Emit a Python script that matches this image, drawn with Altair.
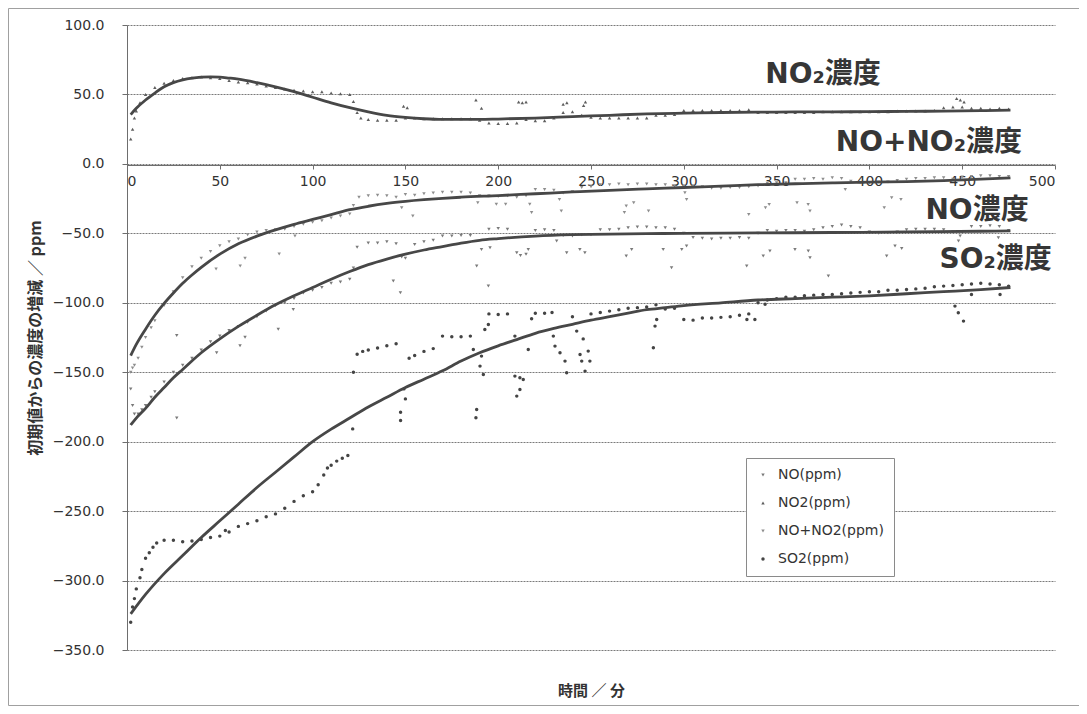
import altair as alt
import pandas as pd

series_names = ["NO(ppm)", "NO2(ppm)", "NO+NO2(ppm)", "SO2(ppm)"]
point_colors = ["#7a7a7a", "#5e5e5e", "#8e8e8e", "#444444"]
point_shapes = ["triangle-down", "triangle-up", "triangle-down", "circle"]
point_sizes = [12, 12, 12, 15]

x_ticks = [0, 50, 100, 150, 200, 250, 300, 350, 400, 450, 500]
y_ticks = [100, 50, 0, -50, -100, -150, -200, -250, -300, -350]

# measured points (minutes, ppm change)
no2_pts = [(2,18),(3,25),(4,33),(5,38),(7,44),(10,50),(15,55),(20,58),(25,60),(30,61.5),(35,62),(40,62.5),
           (45,62),(50,61.5),(55,60),(60,59),(65,58.5),(70,57.5),(75,56),(80,55),(85,54),(90,53),(95,52.5),
           (100,52),(105,52),(110,51),(115,50.5),(120,50),(122,45),(124,37),(126,33),(130,32),(135,31.5),
           (140,31.5),(145,31.5),(150,33),(155,33),(160,32.5),(165,32.5),(170,32.5),(175,32.5),(180,32.5),
           (185,32.5),(190,31.5),(195,29.5),(200,29),(205,29),(210,29.5),(215,32),(220,31),(225,31),(230,33),
           (235,37),(240,37.5),(245,35),(250,33.5),(255,33),(260,33),(265,33),(270,33),(275,33),(280,33),
           (285,35),(290,35),(295,35.5),(300,38.5),(305,38.5),(310,38.5),(315,38.5),(320,38.5),(325,38.5),
           (330,38.5),(335,39),(340,37),(345,37),(350,37),(355,37),(360,37),(365,37),(370,37),(375,37.5),
           (380,37.5),(385,37.5),(390,37.5),(395,37.5),(400,37.5),(405,37.5),(410,37.5),(415,38),(420,38),
           (425,38),(430,38),(435,38.5),(440,40.5),(445,41),(450,41),(455,40),(460,40),(465,39.5),(470,40),
           (475,39.5),
           (149,41.5),(151,40.5),(188,46),(191,40),(211,44.5),(213,44),(215,44.5),(235,43),(237,44),(246,42),
           (247,44.5),(447,47),(449,46),(451,44.5)]

nonox_pts = [(2,-150),(3,-147),(4,-145),(6,-140),(8,-132),(10,-125),(13,-118),(15,-113),(20,-102),(25,-92),
             (30,-82),(35,-74),(40,-68),(45,-63),(50,-59),(55,-56),(60,-54),(65,-51),(70,-49),(75,-48),
             (80,-47.5),(85,-47),(90,-45),(95,-43.5),(100,-42),(105,-41),(110,-39),(115,-37.5),(120,-36),
             (122,-30),(125,-24),(130,-23),(135,-22.5),(140,-23),(145,-24),(150,-22),(155,-22.5),(160,-21.5),
             (165,-21),(170,-20.5),(175,-20.5),(180,-20.5),(185,-21),(190,-23),(195,-23),(200,-23.5),(205,-23),
             (210,-24),(215,-23),(220,-18.5),(225,-18.5),(230,-19),(235,-21),(240,-20),(245,-17),(250,-16.5),
             (255,-15),(260,-15),(265,-14.5),(270,-15),(275,-14.5),(280,-14.5),(285,-15),(290,-15),(295,-16),
             (300,-16),(305,-16),(310,-16.5),(315,-17.5),(320,-17.5),(325,-17),(330,-17),(335,-16.5),(340,-16),
             (345,-14),(350,-13.5),(355,-13.5),(360,-11),(365,-11),(370,-10.5),(375,-11),(380,-10),(385,-10.5),
             (390,-12.5),(395,-13.5),(400,-13.5),(405,-13),(410,-13),(415,-12),(420,-11),(425,-10.5),
             (430,-10.5),(435,-10),(440,-10),(445,-11),(450,-9.5),(455,-9),(460,-8.5),(465,-8.5),(470,-9),
             (475,-9),
             (48,-75.6),(61,-73.5),(63.6,-68),(82,-64.8),(90.5,-52),(148,-31.6),(154,-37.6),(189,-28),(199,-29),
             (204,-29),(217,-29),(218,-35),(233,-25.6),(234,-34),(268,-35),(269,-30.4),(273,-28),(281,-34),
             (300.6,-20.8),(301.5,-25.6),(335,-36.4),(344,-31.6),(346,-29.2),(361,-28),(367,-29.2),(368,-34),
             (387,-18.4),(408,-31.6),(412,-24.4),(417,-25.6)]

no_pts = [(2,-162),(3,-174),(4,-180),(6,-180),(8,-177),(10,-174),(13,-168),(15,-164),(20,-157),(25,-150),
          (30,-145),(35,-140),(40,-134),(45,-128),(50,-124),(55,-120),(60,-117),(65,-114),(70,-110),(75,-106),
          (80,-102),(85,-100),(90,-97),(95,-93),(100,-91),(105,-89),(110,-86),(115,-85),(120,-83),(122,-75),
          (124,-60),(130,-57),(135,-57),(140,-56),(145,-57.5),(148,-67),(150,-68),(155,-58),(160,-56),
          (165,-55),(170,-52),(175,-52),(180,-51.5),(185,-51.5),(195,-47),(200,-46.5),(205,-47),(210,-64),
          (212,-66),(215,-65),(220,-48),(225,-47.5),(230,-48),(235,-51.5),(240,-52),(245,-51),(250,-51),
          (255,-47.5),(260,-47.5),(265,-47),(270,-46),(275,-45.5),(280,-45.5),(285,-46),(290,-46),(295,-47),
          (300,-50),(305,-53),(310,-53.5),(315,-54),(320,-53.5),(325,-53.5),(330,-53),(335,-53.5),(340,-50),
          (345,-48),(350,-48.5),(355,-48),(360,-48),(365,-48.5),(370,-47.5),(375,-46),(380,-45),(385,-44),
          (390,-45),(395,-46),(400,-49),(405,-50),(410,-49.5),(415,-49),(420,-47.5),(425,-47),(430,-47),
          (435,-47),(440,-47.5),(445,-49),(450,-49),(455,-45),(460,-45),(465,-44.5),(470,-45),(475,-48),
          (26.8,-123.6),(26.8,-183),(48.3,-136),(60.9,-131),(63.6,-124.8),(81.5,-119),(89.6,-104.8),
          (143.5,-84.4),(147.3,-92.8),(188.4,-73.6),(194.7,-88),(191,-61.6),(195.6,-60.4),(216.2,-61.6),
          (231.5,-55.6),(236.9,-64),(244,-61.6),(246.7,-64),(269,-66.4),(271.9,-61.6),(288.9,-61.6),
          (293.4,-74.8),(298.9,-61.6),(301.5,-59.2),(333.9,-73.6),(342.8,-66.4),(346.4,-62.8),(359.9,-61.6),
          (367.1,-62.8),(368,-67.6),(377.9,-80.8),(409.3,-66.4),(413.8,-59.2),(417.4,-61),(448,-55.6),
          (448.9,-52),(469.5,-53.2)]

so2_pts = [(2,-330),(3,-319),(4,-313),(5,-306),(7,-298),(8,-292),(10,-284),(12,-280),(14,-276),(16,-273),
           (20,-271),(25,-271),(30,-272),(35,-271.5),(40,-270.5),(45,-269),(50,-268),(53,-264),(55,-265),
           (60,-261),(65,-259),(70,-257),(75,-254),(80,-252),(85,-248),(90,-243),(95,-239),(100,-236),
           (103,-231),(106,-224),(108,-219),(110,-217),(113,-214),(116,-212),(119,-210),(122,-150),(124,-137),
           (127,-135),(130,-134),(135,-132.5),(140,-131),(145,-129.5),(152,-140),(155,-138),(160,-135),
           (165,-133),(170,-124),(175,-124.5),(180,-124.5),(185,-124),(195,-108),(200,-108.5),(205,-108),
           (220,-107.5),(225,-107.5),(229,-107),(250,-108),(255,-107),(260,-106),(265,-105),(270,-104),
           (275,-103.5),(280,-103),(285,-101.5),(290,-104.5),(295,-104),(300,-112),(305,-112.5),(310,-111),
           (315,-111),(320,-110.5),(325,-110),(330,-109),(335,-108),(340,-100),(345,-98),(350,-97),(355,-96),
           (360,-96),(365,-95),(370,-94.5),(375,-94),(380,-94),(385,-93.5),(390,-93),(395,-92.5),(400,-92),
           (405,-92),(410,-91),(415,-91),(420,-90.5),(425,-90),(430,-89.5),(435,-88.5),(440,-88),(445,-87.5),
           (450,-87),(455,-86.5),(460,-86),(465,-86.5),(470,-87),(475,-88),
           (121.6,-190.8),(147.4,-184.8),(147.4,-178.8),(150,-169.2),(149.2,-162),(186.6,-133.6),
           (188.4,-176.8),(188,-182.8),(190.2,-145.6),(191,-138.4),(192,-151.6),(192.8,-119.2),(194.7,-115.6),
           (209,-124),(209,-152.8),(211.7,-154),(213.5,-155.2),(210,-167.2),(211.7,-162.4),(216.2,-133.6),
           (218,-111.5),(229.7,-124),(230.6,-131.2),(233.3,-136),(236,-142),(236.9,-150.4),(240,-110),
           (242.3,-120.4),(244.1,-137.2),(245,-142),(245.8,-126),(246.8,-149.2),(248.5,-134.8),(249.4,-142),
           (283.6,-132.4),(284.5,-116.8),(285.4,-112),(334,-112),(338.3,-112),(343.8,-101),(446.1,-102.4),
           (447.9,-107.2),(450.7,-113.2),(455,-94),(470.4,-94)]

# fitted trend curves
no2_fit = [(2,35.5),(5,40),(10,46),(15,51),(20,55.5),(25,58.5),(30,60.5),(35,61.8),(40,62.5),(45,62.7),
           (50,62.5),(55,61.8),(60,61),(70,58.5),(80,55.5),(90,52),(100,48),(110,44),(120,40.5),(130,37.5),
           (140,35),(150,33.5),(160,32.5),(170,32),(180,32),(190,32),(200,32.3),(220,33),(240,34),(260,35),
           (280,36),(300,36.5),(320,37),(340,37.2),(360,37.4),(380,37.5),(400,37.6),(420,37.8),(440,38),
           (460,38.3),(476,38.7)]
nonox_fit = [(2,-138),(5,-130),(10,-119),(15,-109),(20,-100.5),(25,-93),(30,-86),(35,-80),(40,-74.5),
             (50,-65),(60,-57.5),(70,-52),(80,-47.5),(90,-43.5),(100,-40),(110,-36.5),(120,-33),(130,-30.5),
             (140,-28.5),(150,-27),(160,-25.8),(170,-24.8),(180,-24),(200,-22.8),(220,-21.5),(240,-20.2),
             (260,-19),(280,-18),(300,-17),(320,-16),(340,-15),(360,-14.3),(380,-13.7),(400,-13.2),
             (420,-12.7),(440,-12),(460,-11),(476,-10)]
no_fit = [(2,-188),(5,-183),(10,-176),(15,-168),(20,-161),(25,-154),(30,-148),(40,-136),(50,-126),(60,-117),
          (70,-109),(80,-101.5),(90,-95),(100,-89),(110,-83),(120,-77.5),(130,-72.5),(140,-68.5),(150,-65),
          (160,-62),(170,-59.5),(180,-57),(190,-55),(200,-53.8),(220,-52),(240,-51),(260,-50.5),(280,-50.2),
          (300,-50),(340,-49.7),(380,-49.4),(420,-49),(460,-48.5),(476,-48.3)]
so2_fit = [(2,-324),(10,-310),(20,-295),(30,-282),(40,-269),(50,-257),(60,-245),(70,-233),(80,-222),
           (90,-211),(100,-200),(110,-191),(120,-183),(130,-175),(140,-168),(150,-161),(160,-155),(170,-149),
           (180,-142),(190,-136),(200,-131),(210,-126.5),(220,-122),(230,-118.5),(240,-115.5),(250,-112.5),
           (260,-110),(270,-107.5),(280,-105),(290,-103.5),(300,-102),(320,-100),(340,-98),(360,-97),
           (380,-96),(400,-95),(420,-93.5),(440,-92),(460,-90.5),(476,-89)]

label_texts = ["NO₂濃度", "NO+NO₂濃度", "NO濃度", "SO₂濃度"]
label_t = [375, 432, 458, 468]
label_v = [64, 15, -34, -69]


def to_df(pairs, name):
    return pd.DataFrame({"t": [p[0] for p in pairs], "v": [p[1] for p in pairs], "series": name})


points = pd.concat([to_df(no_pts, series_names[0]), to_df(no2_pts, series_names[1]),
                    to_df(nonox_pts, series_names[2]), to_df(so2_pts, series_names[3])], ignore_index=True)
fits = pd.concat([to_df(no_fit, series_names[0]), to_df(no2_fit, series_names[1]),
                  to_df(nonox_fit, series_names[2]), to_df(so2_fit, series_names[3])], ignore_index=True)
labels = pd.DataFrame({"t": label_t, "v": label_v, "text": label_texts})

xscale = alt.Scale(domain=[0, 500], nice=False, zero=False)
yscale = alt.Scale(domain=[-350, 100], nice=False, zero=False)

x_enc = alt.X("t:Q", scale=xscale, axis=alt.Axis(
    values=x_ticks, format="d", offset=-485, grid=False, tickSize=4, labelPadding=5,
    title="時間 ／ 分", titleY=525, titleBaseline="middle", titleAlign="center"))
y_enc = alt.Y("v:Q", scale=yscale, axis=alt.Axis(
    values=y_ticks, format=".1f", grid=True, gridColor="#7a7a7a", gridDash=[2, 1], gridWidth=1,
    tickSize=5, labelPadding=18, title="初期値からの濃度の増減 ／ ppm", titleFontSize=16,
    titleX=-92, titleY=312.5, titleAngle=-90, titleBaseline="middle", titleAlign="center"))

pts = alt.Chart(points).mark_point(filled=True, opacity=1).encode(
    x=x_enc, y=y_enc,
    color=alt.Color("series:N", scale=alt.Scale(domain=series_names, range=point_colors),
                    legend=alt.Legend(title=None, orient="none", legendX=619, legendY=433)),
    shape=alt.Shape("series:N", scale=alt.Scale(domain=series_names, range=point_shapes),
                    legend=alt.Legend(title=None, orient="none", legendX=619, legendY=433)),
    size=alt.Size("series:N", scale=alt.Scale(domain=series_names, range=point_sizes), legend=None),
)

trend = alt.Chart(fits).mark_line(interpolate="monotone", color="#474747", strokeWidth=2.8).encode(
    x="t:Q", y="v:Q", detail="series:N")

txt = alt.Chart(labels).mark_text(font="DejaVu Sans, Noto Sans CJK JP", fontSize=28, fontWeight="bold",
                                  color="#363636", align="center", baseline="middle").encode(
    x="t:Q", y="v:Q", text="text:N")

one = pd.DataFrame({"k": [0]})
frame_left = alt.Chart(one).mark_rule(color="#a0a0a0", strokeWidth=1).encode(
    x=alt.value(-118.5), y=alt.value(-16.5), y2=alt.value(680.5))
frame_top = alt.Chart(one).mark_rule(color="#a0a0a0", strokeWidth=1).encode(
    x=alt.value(-118.5), x2=alt.value(960), y=alt.value(-16.5))
frame_bottom = alt.Chart(one).mark_rule(color="#a0a0a0", strokeWidth=1).encode(
    x=alt.value(-118.5), x2=alt.value(960), y=alt.value(680.5))

chart = alt.layer(frame_left, frame_top, frame_bottom, pts, trend, txt).properties(
    width=928, height=625,
    autosize=alt.AutoSizeParams(type="none"),
    padding={"left": 119, "top": 17, "right": 24, "bottom": 56},
).configure_view(stroke=None).configure_axis(
    labelFont="DejaVu Sans", labelFontSize=14, labelColor="#333333",
    titleFont="Noto Sans CJK JP", titleFontSize=15, titleFontWeight="bold", titleColor="#333333",
    domainColor="#6e6e6e", tickColor="#6e6e6e",
).configure_legend(
    labelFont="DejaVu Sans", labelFontSize=14, labelColor="#333333",
    strokeColor="#8a8a8a", padding=10, rowPadding=14, symbolSize=24, labelOffset=8,
    fillColor="#ffffff",
)

chart.save("out.html", embed_options={"renderer": "svg", "actions": False})
